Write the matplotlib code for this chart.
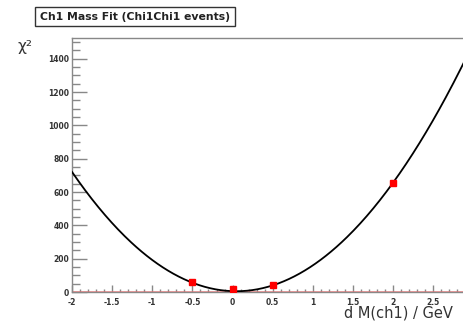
import numpy as np
import matplotlib.pyplot as plt
from matplotlib.ticker import MultipleLocator

# scan points: mass shift vs chi2
dm = [-0.5, 0.0, 0.5, 2.0]
chi2 = [60, 20, 44, 652]

# pol2 fit parameters p0 + p1*x + p2*x^2
fit_pars = [5.0, -16.0, 171.0]

x_ticks = [-2, -1.5, -1, -0.5, 0, 0.5, 1, 1.5, 2, 2.5]
x_tick_labels = ['-2', '-1.5', '-1', '-0.5', '0', '0.5', '1', '1.5', '2', '2.5']
y_ticks = [0, 200, 400, 600, 800, 1000, 1200, 1400]

fig = plt.figure(figsize=(4.63, 3.24), dpi=100)
ax = fig.add_axes([72 / 463, 32 / 324, 1 - 72 / 463, 254 / 324])

xs = np.linspace(-2, 2.9, 300)
ys = np.polyval(fit_pars[::-1], xs)
ax.plot(xs, ys, color='black', lw=1.3, zorder=3)
ax.plot(dm, chi2, 's', color='red', ms=4.5, mec='red', zorder=4)
ax.axhline(0, color='#f07070', lw=1.2, alpha=0.8, zorder=2)

ax.set_xlim(-2, 2.87)
ax.set_ylim(0, 1525)
ax.set_xticks(x_ticks)
ax.set_xticklabels(x_tick_labels)
ax.set_yticks(y_ticks)
ax.xaxis.set_minor_locator(MultipleLocator(0.1))
ax.yaxis.set_minor_locator(MultipleLocator(50))

grey = '#888888'
for side in ['left', 'top', 'bottom']:
    ax.spines[side].set_color(grey)
    ax.spines[side].set_linewidth(1.0)
ax.spines['right'].set_visible(False)
ax.tick_params(which='both', direction='in', color=grey, width=1.0,
               labelsize=5.5, labelcolor='#333333')
ax.tick_params(axis='x', which='major', length=5, pad=4)
ax.tick_params(axis='x', which='minor', length=2.5)
ax.tick_params(axis='y', which='major', length=11, pad=2)
ax.tick_params(axis='y', which='minor', length=5.5)
for lab in ax.get_xticklabels() + ax.get_yticklabels():
    lab.set_fontweight('bold')

fig.text(453 / 463, 1 - 306 / 324, 'd M(ch1) / GeV',
         ha='right', va='top', fontsize=10.5, color='#333333')
fig.text(18 / 463, 1 - 47 / 324, 'χ²', fontsize=11, color='#333333',
         ha='left', va='center')

fig.text(135 / 463, 1 - 16.5 / 324, 'Ch1 Mass Fit (Chi1Chi1 events)',
         ha='center', va='center', fontsize=7.8, fontweight='bold',
         color='#222222',
         bbox=dict(boxstyle='square,pad=0.45', fc='white', ec='#333333', lw=1.0))

fig.savefig('out.png', dpi=100)
